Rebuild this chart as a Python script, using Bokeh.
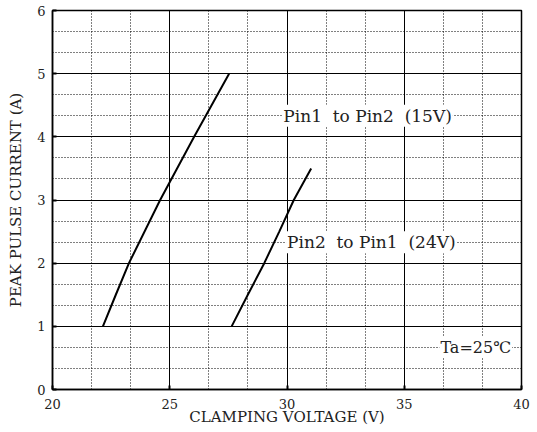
from bokeh.plotting import figure
from bokeh.models import FixedTicker, Label, Range1d
from bokeh.embed import file_html
from bokeh.resources import INLINE

# Data
curve1_x = [22.15, 22.7, 23.26, 24.59, 26.04, 27.53]
curve1_y = [1.0, 1.5, 2.0, 3.0, 4.0, 5.0]
curve2_x = [27.64, 28.33, 29.03, 29.67, 30.29, 31.03]
curve2_y = [1.0, 1.5, 2.0, 2.5, 3.0, 3.5]

x_ticks = [20, 25, 30, 35, 40]
y_ticks = [0, 1, 2, 3, 4, 5, 6]
x_minor = [20 + i * 5 / 3 for i in range(13)]
y_minor = [i / 3 for i in range(19)]

NB = "\u00a0"
labels = ["Pin1" + NB * 2 + "to Pin2" + NB * 2 + "(15V)",
          "Pin2" + NB * 2 + "to Pin1" + NB * 2 + "(24V)",
          "Ta=25\u2103"]
label_x = [29.8, 29.96, 36.5]
label_y = [4.333, 2.333, 0.667]
label_size = ["17px", "17px", "16px"]

FONT = "DejaVu Serif"

p = figure(width=537, height=432, output_backend="svg", toolbar_location=None,
           x_range=Range1d(20, 40), y_range=Range1d(0, 6),
           min_border_left=52, min_border_right=16, min_border_top=10, min_border_bottom=43)
p.background_fill_color = "white"
p.border_fill_color = "white"
p.outline_line_color = "black"
p.outline_line_width = 1.5

p.xaxis.ticker = FixedTicker(ticks=x_ticks, minor_ticks=x_minor)
p.yaxis.ticker = FixedTicker(ticks=y_ticks, minor_ticks=y_minor)

for ax in (p.xaxis, p.yaxis):
    ax.axis_line_color = "black"
    ax.axis_line_width = 1.5
    ax.major_tick_in = 4
    ax.major_tick_out = 0
    ax.minor_tick_in = 0
    ax.minor_tick_out = 0
    ax.major_tick_line_width = 2
    ax.major_label_text_font = FONT
    ax.major_label_text_font_size = "13px"
    ax.major_label_text_color = "#222222"
    ax.axis_label_text_font = FONT
    ax.axis_label_text_font_size = "15px"
    ax.axis_label_text_font_style = "normal"
    ax.axis_label_text_color = "#222222"

p.xaxis.major_label_standoff = 9
p.yaxis.major_label_standoff = 7
p.xaxis.axis_label = "CLAMPING VOLTAGE (V)"
p.xaxis.axis_label_standoff = -4
p.yaxis.axis_label = "PEAK PULSE CURRENT (A)"
p.yaxis.axis_label_standoff = 9

p.xgrid.grid_line_color = "black"
p.xgrid.grid_line_width = 1
p.xgrid.minor_grid_line_color = "black"
p.xgrid.minor_grid_line_dash = "1 2"
p.xgrid.minor_grid_line_width = 1
p.ygrid.grid_line_color = "black"
p.ygrid.grid_line_width = 1
p.ygrid.minor_grid_line_color = "black"
p.ygrid.minor_grid_line_dash = "1 2"
p.ygrid.minor_grid_line_width = 1

p.line(curve1_x, curve1_y, line_color="black", line_width=2)
p.line(curve2_x, curve2_y, line_color="black", line_width=2)

for t, lx, ly, fs in zip(labels, label_x, label_y, label_size):
    p.add_layout(Label(x=lx, y=ly, text=t, text_baseline="middle", text_align="left",
                       text_font=FONT, text_font_size=fs, text_color="#222222",
                       background_fill_color="white", padding=1))

open("out.html", "w").write(file_html(p, INLINE))
